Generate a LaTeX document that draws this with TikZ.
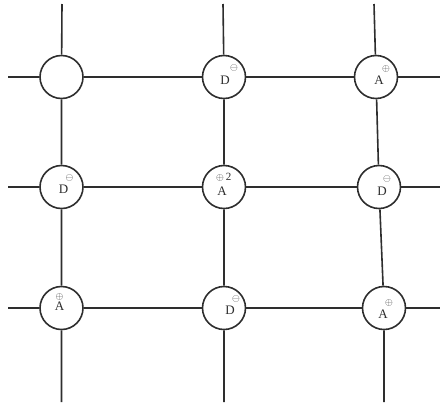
\documentclass[tikz,border=0pt]{standalone}
\usepackage{fontspec}
\setmainfont{Liberation Serif}
\usetikzlibrary{calc}
\definecolor{ink}{HTML}{2e2e2e}
\tikzset{
  site/.style={circle,draw=ink,line width=1.6pt,minimum size=43pt,inner sep=0pt,fill=white},
  bond/.style={draw=ink,line width=1.6pt},
  lbl/.style={inner sep=0pt,text=ink,font=\fontsize{13}{13}\selectfont},
  chg/.style={inner sep=0pt,text=ink,font=\fontsize{10}{10}\selectfont},
}
\begin{document}
\begin{tikzpicture}[x=1pt,y=-1pt]
\useasboundingbox (0,0) rectangle (447,413);
% sites
\node[site] (n11) at (61.5,77) {};
\node[site] (n12) at (224,77) {};
\node[site] (n13) at (376,77) {};
\node[site] (n21) at (61.5,187) {};
\node[site] (n22) at (224,187) {};
\node[site] (n23) at (379,187) {};
\node[site] (n31) at (61.5,308) {};
\node[site] (n32) at (224,308) {};
\node[site] (n33) at (384,308) {};
% free ends
\coordinate (l1) at (8,77);
\coordinate (l2) at (8,187);
\coordinate (l3) at (8,308);
\coordinate (r1) at (440,77);
\coordinate (r2) at (440,187);
\coordinate (r3) at (440,308);
\coordinate (t1) at (62,4);
\coordinate (t2) at (223,4);
\coordinate (t3) at (374,4);
\coordinate (b1) at (61.5,402);
\coordinate (b2) at (224,402);
\coordinate (b3) at (384,402);
% bonds
\draw[bond] (l1) -- (n11) (n11) -- (n12) (n12) -- (n13) (n13) -- (r1);
\draw[bond] (l2) -- (n21) (n21) -- (n22) (n22) -- (n23) (n23) -- (r2);
\draw[bond] (l3) -- (n31) (n31) -- (n32) (n32) -- (n33) (n33) -- (r3);
\draw[bond] (t1) -- (n11) (n11) -- (n21) (n21) -- (n31) (n31) -- (b1);
\draw[bond] (t2) -- (n12) (n12) -- (n22) (n22) -- (n32) (n32) -- (b2);
\draw[bond] (t3) -- (n13) (n13) -- (n23) (n23) -- (n33) (n33) -- (b3);
% labels
\node[lbl] (d12) at ($(n12)+(1,3)$) {D};
\node[chg] (c12) at ($(n12)+(10,-9)$) {$\ominus$};
\node[lbl] (a13) at ($(n13)+(3,3)$) {A};
\node[chg] (c13) at ($(n13)+(10,-8)$) {$\oplus$};
\node[lbl] (d21) at ($(n21)+(2,2)$) {D};
\node[chg] (c21) at ($(n21)+(8,-9)$) {$\ominus$};
\node[lbl] (a22) at ($(n22)+(-2,4)$) {A};
\node[chg] (c22) at ($(n22)+(-4,-9)$) {$\oplus$};
\node[chg,font=\fontsize{11}{11}\selectfont] (c22b) at ($(n22)+(4.5,-10)$) {2};
\node[lbl] (d23) at ($(n23)+(3,4)$) {D};
\node[chg] (c23) at ($(n23)+(8,-8)$) {$\ominus$};
\node[lbl] (a31) at ($(n31)+(-2,-2)$) {A};
\node[chg] (c31) at ($(n31)+(-2,-11)$) {$\oplus$};
\node[lbl] (d32) at ($(n32)+(6,2)$) {D};
\node[chg] (c32) at ($(n32)+(12,-9)$) {$\ominus$};
\node[lbl] (a33) at ($(n33)+(-1,6)$) {A};
\node[chg] (c33) at ($(n33)+(5,-5)$) {$\oplus$};
\end{tikzpicture}
\end{document}
